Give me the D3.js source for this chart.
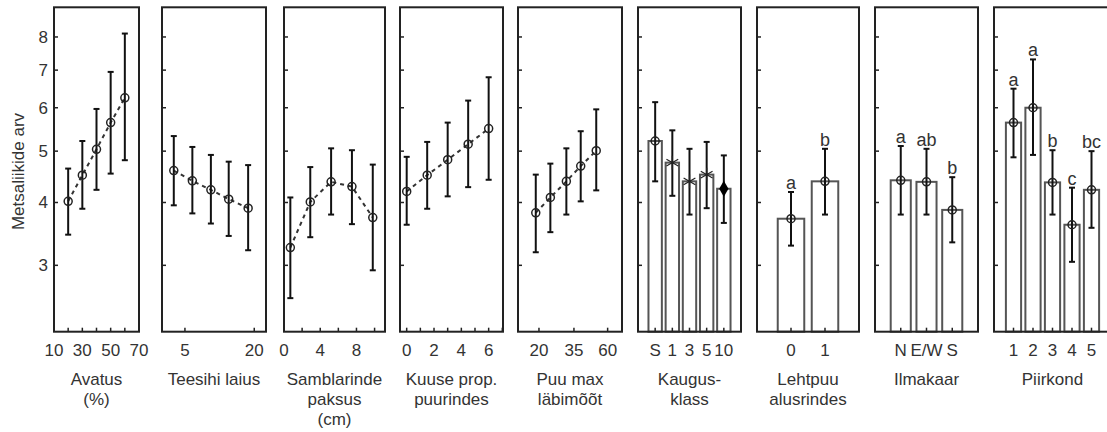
<!DOCTYPE html>
<html>
<head>
  <meta charset="UTF-8">
  <style>
    body { margin: 0; background: #fff; }
    svg { display: block; font-family: Arial, "Liberation Sans", sans-serif; }
  </style>
</head>
<body>
<svg></svg>
<script src="https://d3js.org/d3.v7.min.js"></script>

<script>

let width = 1107, height = 432;

// ---- data ----
// Avatus (%)
const avatusX = [20, 30, 40, 50, 60];
const avatusMean = [4.02, 4.51, 5.04, 5.64, 6.25];
const avatusLo = [3.46, 3.89, 4.23, 4.54, 4.81];
const avatusHi = [4.64, 5.22, 5.97, 6.95, 8.11];

// Teesihi laius
const teesihiX = [4, 5.8, 8.4, 12, 17.7];
const teesihiMean = [4.60, 4.40, 4.23, 4.06, 3.90];
const teesihiLo = [3.95, 3.81, 3.64, 3.44, 3.22];
const teesihiHi = [5.33, 5.09, 4.92, 4.78, 4.71];

// Samblarinde paksus (cm)
const samblaX = [0.7, 2.9, 5.2, 7.5, 9.8];
const samblaMean = [3.26, 4.01, 4.38, 4.29, 3.74];
const samblaLo = [2.56, 3.42, 3.79, 3.63, 2.93];
const samblaHi = [4.09, 4.67, 5.06, 5.02, 4.72];

// Kuuse prop. puurindes
const kuuseX = [0, 1.5, 3, 4.5, 6];
const kuuseMean = [4.20, 4.51, 4.82, 5.15, 5.50];
const kuuseLo = [3.62, 3.89, 4.11, 4.28, 4.42];
const kuuseHi = [4.88, 5.20, 5.64, 6.18, 6.80];

// Puu max läbimõõt
const puuX = [19, 24, 31, 39, 50];
const puuMean = [3.82, 4.09, 4.39, 4.69, 5.01];
const puuLo = [3.19, 3.50, 3.79, 4.02, 4.22];
const puuHi = [4.52, 4.74, 5.06, 5.44, 5.96];

// Kaugusklass
const kaugusCats = ["S", "1", "3", "5", "10"];
const kaugusMean = [5.22, 4.76, 4.39, 4.52, 4.25];
const kaugusLo = [4.39, 4.12, 3.79, 3.90, 3.65];
const kaugusHi = [6.14, 5.46, 5.05, 5.20, 4.91];
const kaugusMarker = ["circle", "asterisk", "asterisk", "asterisk", "diamond"];

// Lehtpuu alusrindes
const lehtCats = ["0", "1"];
const lehtMean = [3.72, 4.39];
const lehtLo = [3.29, 3.79];
const lehtHi = [4.19, 5.05];
const lehtLetters = ["a", "b"];

// Ilmakaar
const ilmaCats = ["N", "E/W", "S"];
const ilmaMean = [4.41, 4.38, 3.87];
const ilmaLo = [3.79, 3.79, 3.34];
const ilmaHi = [5.11, 5.05, 4.47];
const ilmaLetters = ["a", "ab", "b"];

// Piirkond
const piirCats = ["1", "2", "3", "4", "5"];
const piirMean = [5.64, 6.00, 4.37, 3.62, 4.23];
const piirLo = [4.87, 4.92, 3.79, 3.05, 3.57];
const piirHi = [6.49, 7.31, 5.02, 4.27, 5.00];
const piirLetters = ["a", "a", "b", "c", "bc"];

const yTicks = [3, 4, 5, 6, 7, 8];

// ---- layout ----
let svg = d3.select("svg")
    .attr("width", width)
    .attr("height", height)
    .attr("viewBox", "0 0 " + width + " " + height);

const yTop = 7.3, yBottom = 331.7;
const textCol = "#333", frameCol = "#222";
const fs = 17;

// y axis is log(n + 1)
const yLog = d3.scaleLog().domain([3.16, 10]).range([yBottom, yTop]);
const y = v => yLog(v + 1);

function zip(xs, m, lo, hi) {
    return xs.map((x, i) => ({x: x, mean: m[i], lo: lo[i], hi: hi[i]}));
}

const panels = [
    {kind: "line", left: 54, right: 139, scale: d3.scaleLinear().domain([10, 70]),
     ticks: [10, 20, 30, 40, 50, 60, 70], labels: [10, 30, 50, 70],
     data: zip(avatusX, avatusMean, avatusLo, avatusHi), title: ["Avatus", "(%)"]},
    {kind: "line", left: 162, right: 266, scale: d3.scaleLog().domain([3.16, 25.3]),
     ticks: [5, 20], labels: [5, 20],
     data: zip(teesihiX, teesihiMean, teesihiLo, teesihiHi), title: ["Teesihi laius"]},
    {kind: "line", left: 284, right: 385, scale: d3.scaleLinear().domain([0, 11.15]),
     ticks: [2, 4, 6, 8, 10], labels: [0, 4, 8],
     data: zip(samblaX, samblaMean, samblaLo, samblaHi), title: ["Samblarinde", "paksus", "(cm)"]},
    {kind: "line", left: 400, right: 503, scale: d3.scaleLinear().domain([-0.49, 7.05]),
     ticks: [0, 1, 2, 3, 4, 5, 6, 7], labels: [0, 2, 4, 6],
     data: zip(kuuseX, kuuseMean, kuuseLo, kuuseHi), title: ["Kuuse prop.", "puurindes"]},
    {kind: "line", left: 518, right: 622, scale: d3.scaleLog().domain([14.3, 75.5]),
     ticks: [20, 35, 60], labels: [20, 35, 60],
     data: zip(puuX, puuMean, puuLo, puuHi), title: ["Puu max", "läbimõõt"]},
    {kind: "bar", left: 638, right: 741,
     data: zip(kaugusCats, kaugusMean, kaugusLo, kaugusHi), markers: kaugusMarker,
     title: ["Kaugus-", "klass"]},
    {kind: "bar", left: 757, right: 859,
     data: zip(lehtCats, lehtMean, lehtLo, lehtHi), letters: lehtLetters,
     title: ["Lehtpuu", "alusrindes"]},
    {kind: "bar", left: 875, right: 978,
     data: zip(ilmaCats, ilmaMean, ilmaLo, ilmaHi), letters: ilmaLetters,
     title: ["Ilmakaar"]},
    {kind: "bar", left: 994, right: 1111,
     data: zip(piirCats, piirMean, piirLo, piirHi), letters: piirLetters,
     title: ["Piirkond"]}
];

// y axis label + tick labels (first panel only)
svg.append("text")
    .attr("transform", "translate(24," + ((yTop + yBottom) / 2 + 2) + ") rotate(-90)")
    .attr("text-anchor", "middle")
    .style("font-size", "17px")
    .style("fill", textCol)
    .text("Metsaliikide arv");

svg.selectAll("text.ytick")
    .data(yTicks)
    .enter().append("text")
    .attr("class", "ytick")
    .attr("x", 48)
    .attr("y", d => y(d) + 6)
    .attr("text-anchor", "end")
    .style("font-size", fs + "px")
    .style("fill", textCol)
    .text(d => d);

function errorBars(g, data, xf) {
    let eb = g.append("g").selectAll("g").data(data).enter().append("g");
    eb.append("line")
        .attr("x1", d => xf(d.x)).attr("x2", d => xf(d.x))
        .attr("y1", d => y(d.lo)).attr("y2", d => y(d.hi))
        .attr("stroke", "#111").attr("stroke-width", 2);
    [d => d.lo, d => d.hi].forEach(acc => {
        eb.append("line")
            .attr("x1", d => xf(d.x) - 3).attr("x2", d => xf(d.x) + 3)
            .attr("y1", d => y(acc(d))).attr("y2", d => y(acc(d)))
            .attr("stroke", "#111").attr("stroke-width", 2);
    });
}

panels.forEach(p => {
    let g = svg.append("g");
    let xf, tickVals, labelVals;

    if (p.kind == "line") {
        p.scale.range([p.left, p.right]);
        xf = p.scale;
        tickVals = p.ticks;
        labelVals = p.labels;
    } else {
        let ps = d3.scalePoint().domain(p.data.map(d => d.x)).range([p.left, p.right]).padding(1);
        xf = ps;
        tickVals = ps.domain();
        labelVals = ps.domain();
        let bw = ps.step() * 0.78;
        g.selectAll("rect.bar")
            .data(p.data)
            .enter().append("rect")
            .attr("class", "bar")
            .attr("x", d => ps(d.x) - bw / 2)
            .attr("y", d => y(d.mean))
            .attr("width", bw)
            .attr("height", d => yBottom - y(d.mean))
            .attr("fill", "#fff")
            .attr("stroke", "#555")
            .attr("stroke-width", 2);
    }

    // inward ticks
    g.selectAll("line.yt").data(yTicks).enter().append("line")
        .attr("x1", p.left).attr("x2", p.left + 4)
        .attr("y1", d => y(d)).attr("y2", d => y(d))
        .attr("stroke", frameCol).attr("stroke-width", 1.5);
    g.selectAll("line.xt").data(tickVals).enter().append("line")
        .attr("x1", d => xf(d)).attr("x2", d => xf(d))
        .attr("y1", yBottom).attr("y2", yBottom - 4)
        .attr("stroke", frameCol).attr("stroke-width", 1.5);

    // x tick labels
    g.selectAll("text.xl").data(labelVals).enter().append("text")
        .attr("x", d => xf(d))
        .attr("y", 356)
        .attr("text-anchor", "middle")
        .style("font-size", fs + "px")
        .style("fill", textCol)
        .text(d => d);

    if (p.kind == "line") {
        g.append("path")
            .datum(p.data)
            .attr("d", d3.line().x(d => xf(d.x)).y(d => y(d.mean)))
            .attr("fill", "none")
            .attr("stroke", "#333")
            .attr("stroke-width", 2)
            .attr("stroke-dasharray", "4,4");
        errorBars(g, p.data, xf);
        g.selectAll("circle.pt").data(p.data).enter().append("circle")
            .attr("cx", d => xf(d.x)).attr("cy", d => y(d.mean)).attr("r", 4)
            .attr("fill", "none").attr("stroke", "#222").attr("stroke-width", 1.5);
    } else {
        errorBars(g, p.data, xf);
        p.data.forEach((d, i) => {
            let m = p.markers ? p.markers[i] : "circle";
            if (m == "circle") {
                g.append("circle")
                    .attr("cx", xf(d.x)).attr("cy", y(d.mean)).attr("r", 4)
                    .attr("fill", "none").attr("stroke", "#222").attr("stroke-width", 1.5);
            } else if (m == "asterisk") {
                g.append("path")
                    .attr("transform", "translate(" + xf(d.x) + "," + y(d.mean) + ")")
                    .attr("d", d3.symbol().type(d3.symbolAsterisk).size(130)())
                    .attr("fill", "none").attr("stroke", "#222").attr("stroke-width", 1.2);
            } else {
                g.append("path")
                    .attr("transform", "translate(" + xf(d.x) + "," + y(d.mean) + ")")
                    .attr("d", d3.symbol().type(d3.symbolDiamond).size(75)())
                    .attr("fill", "#000");
            }
        });
        if (p.letters) {
            g.selectAll("text.let").data(p.data).enter().append("text")
                .attr("x", d => xf(d.x))
                .attr("y", d => y(d.hi) - 3)
                .attr("text-anchor", "middle")
                .style("font-size", "18px")
                .style("fill", textCol)
                .text((d, i) => p.letters[i]);
        }
    }

    // frame
    g.append("rect")
        .attr("x", p.left).attr("y", yTop)
        .attr("width", p.right - p.left).attr("height", yBottom - yTop)
        .attr("fill", "none").attr("stroke", frameCol).attr("stroke-width", 2);

    // axis title
    let cx = (p.left + p.right) / 2;
    g.selectAll("text.title").data(p.title).enter().append("text")
        .attr("x", cx)
        .attr("y", (d, i) => 385 + i * 20)
        .attr("text-anchor", "middle")
        .style("font-size", fs + "px")
        .style("fill", textCol)
        .text(d => d);
});

</script>

</body>
</html>
